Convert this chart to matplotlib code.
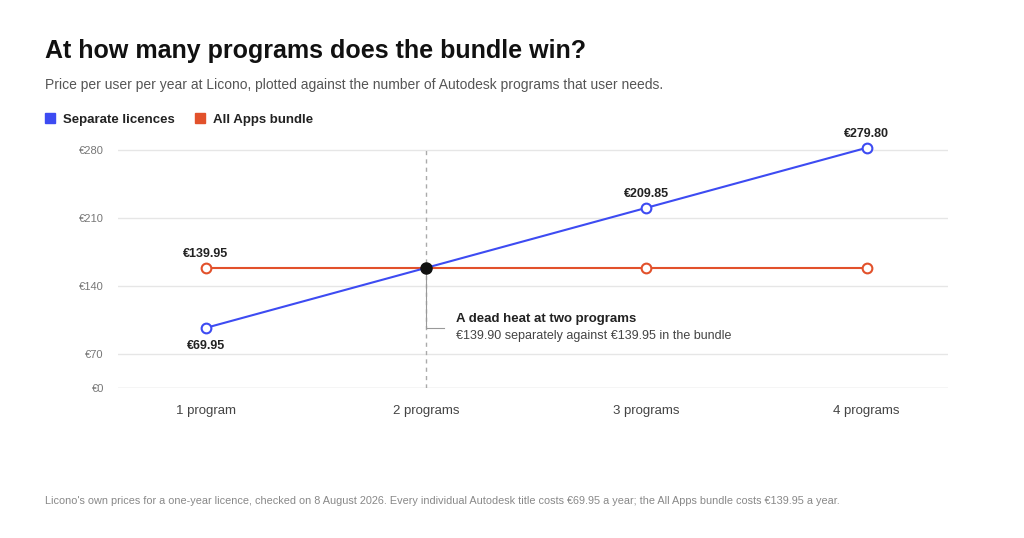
import matplotlib
matplotlib.use("Agg")
import matplotlib.pyplot as plt

categories = ["1 program", "2 programs", "3 programs", "4 programs"]
separate = [69.95, 139.90, 209.85, 279.80]
bundle = [139.95, 139.95, 139.95, 139.95]
sep_labels = ["€69.95", None, "€209.85", "€279.80"]
# tick positions as they sit on the reference axis
tick_vals = [0, 39.7, 119, 198.3, 277.7]
tick_labels = ["€0", "€70", "€140", "€210", "€280"]

BLUE = "#3d4bf2"
ORANGE = "#e2512b"
GRID = "#e6e6e6"
MUTED = "#777777"

plt.rcParams["font.family"] = ["Liberation Sans", "DejaVu Sans"]
fig = plt.figure(figsize=(10.24, 5.38), dpi=100)
ax = fig.add_axes([0.115, 0.279, 0.811, 0.461])
x = list(range(len(categories)))

ax.set_xlim(-0.4, 3.37)
ax.set_ylim(0, 289)
for v in tick_vals:
    ax.axhline(v, color=GRID if v else "#cccccc", lw=1, zorder=0)
ax.set_yticks(tick_vals, tick_labels)
ax.set_xticks(x, categories)
ax.tick_params(axis="y", length=0, labelsize=8, colors=MUTED, pad=10)
ax.tick_params(axis="x", length=0, labelsize=9.5, colors="#444444", pad=12)
for s in ax.spines.values():
    s.set_visible(False)

ax.plot([1, 1], [0, 277.7], ls=(0, (3, 3)), color="#aaaaaa", lw=1, zorder=1)

ax.plot(x, bundle, color=ORANGE, lw=1.5, zorder=2)
ax.plot(x, separate, color=BLUE, lw=1.5, zorder=3)
for i in [0, 2, 3]:
    ax.plot(x[i], bundle[i], "o", ms=7, mfc="white", mec=ORANGE, mew=1.5, zorder=4)
    ax.plot(x[i], separate[i], "o", ms=7, mfc="white", mec=BLUE, mew=1.5, zorder=4)
ax.plot(1, separate[1], "o", ms=8, color="#111111", zorder=5)

ax.annotate("€139.95", (0, bundle[0]), xytext=(0, 8), textcoords="offset points",
            ha="center", fontsize=9, fontweight="bold", color="#222222")
ax.annotate(sep_labels[0], (0, separate[0]), xytext=(0, -15), textcoords="offset points",
            ha="center", fontsize=9, fontweight="bold", color="#222222")
for i in [2, 3]:
    ax.annotate(sep_labels[i], (i, separate[i]), xytext=(0, 8), textcoords="offset points",
                ha="center", fontsize=9, fontweight="bold", color="#222222")

ax.plot([1, 1, 1.08], [139.9, 70, 70], color="#999999", lw=0.8, zorder=1)
ax.text(1.135, 80, "A dead heat at two programs", fontsize=9.5, fontweight="bold", color="#222222", va="center")
ax.text(1.135, 60, "€139.90 separately against €139.95 in the bundle", fontsize=9, color="#444444", va="center")

fig.text(0.044, 0.893, "At how many programs does the bundle win?", fontsize=18, fontweight="bold", color="#111111")
fig.text(0.044, 0.834, "Price per user per year at Licono, plotted against the number of Autodesk programs that user needs.",
         fontsize=10, color="#555555")
fig.patches.append(plt.Rectangle((0.044, 0.771), 0.0098, 0.0186, color=BLUE, transform=fig.transFigure))
fig.text(0.062, 0.772, "Separate licences", fontsize=9.5, fontweight="bold", color="#222222")
fig.patches.append(plt.Rectangle((0.19, 0.771), 0.0098, 0.0186, color=ORANGE, transform=fig.transFigure))
fig.text(0.208, 0.772, "All Apps bundle", fontsize=9.5, fontweight="bold", color="#222222")
fig.text(0.044, 0.063, "Licono's own prices for a one-year licence, checked on 8 August 2026. Every individual Autodesk title costs €69.95 a year; the All Apps bundle costs €139.95 a year.",
         fontsize=7.8, color="#888888")

fig.savefig("out.png", dpi=100)
